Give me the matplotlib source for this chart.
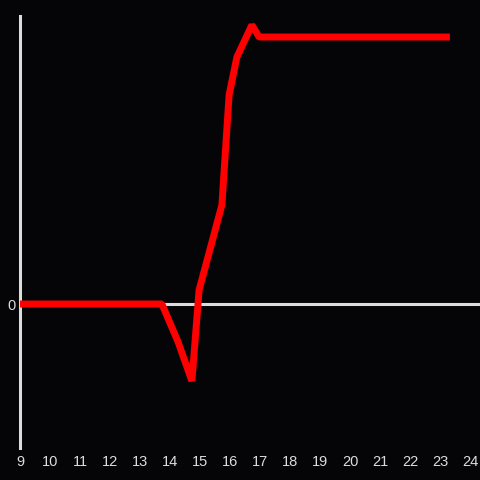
import matplotlib
matplotlib.use("Agg")
import matplotlib.pyplot as plt

# values
x_vals = [9, 13.73, 14.27, 14.73, 14.97, 15.73, 15.97, 16.23, 16.73, 16.97, 23.33]
y_vals = [0, 0, -38, -77, 14, 99, 209, 247, 279, 267, 267]
x_ticks = list(range(9, 25))

bg = "#050507"
axis_col = "#dcdcdc"

fig = plt.figure(figsize=(4.8, 4.8), dpi=100, facecolor=bg)
ax = fig.add_axes([20 / 480, 32 / 480, 460 / 480, 432 / 480], facecolor=bg)

ax.axhline(0, color=axis_col, linewidth=2.2, zorder=1)
ax.plot(x_vals, y_vals, color="#ff0000", linewidth=5,
        solid_joinstyle="bevel", solid_capstyle="butt", zorder=3)

ax.set_xlim(9, 9 + 460 / 30)
ax.set_ylim(-144, 288)

for side in ["top", "right", "bottom"]:
    ax.spines[side].set_visible(False)
ax.spines["left"].set_color(axis_col)
ax.spines["left"].set_linewidth(2.2)

ax.set_xticks(x_ticks)
ax.set_yticks([0])
ax.tick_params(axis="both", length=0, colors=axis_col, labelsize=10.5)
ax.tick_params(axis="x", pad=5)
ax.tick_params(axis="y", pad=3)
for lbl in ax.get_xticklabels() + ax.get_yticklabels():
    lbl.set_fontfamily("Liberation Sans")

fig.savefig("out.png", dpi=100, facecolor=bg)
